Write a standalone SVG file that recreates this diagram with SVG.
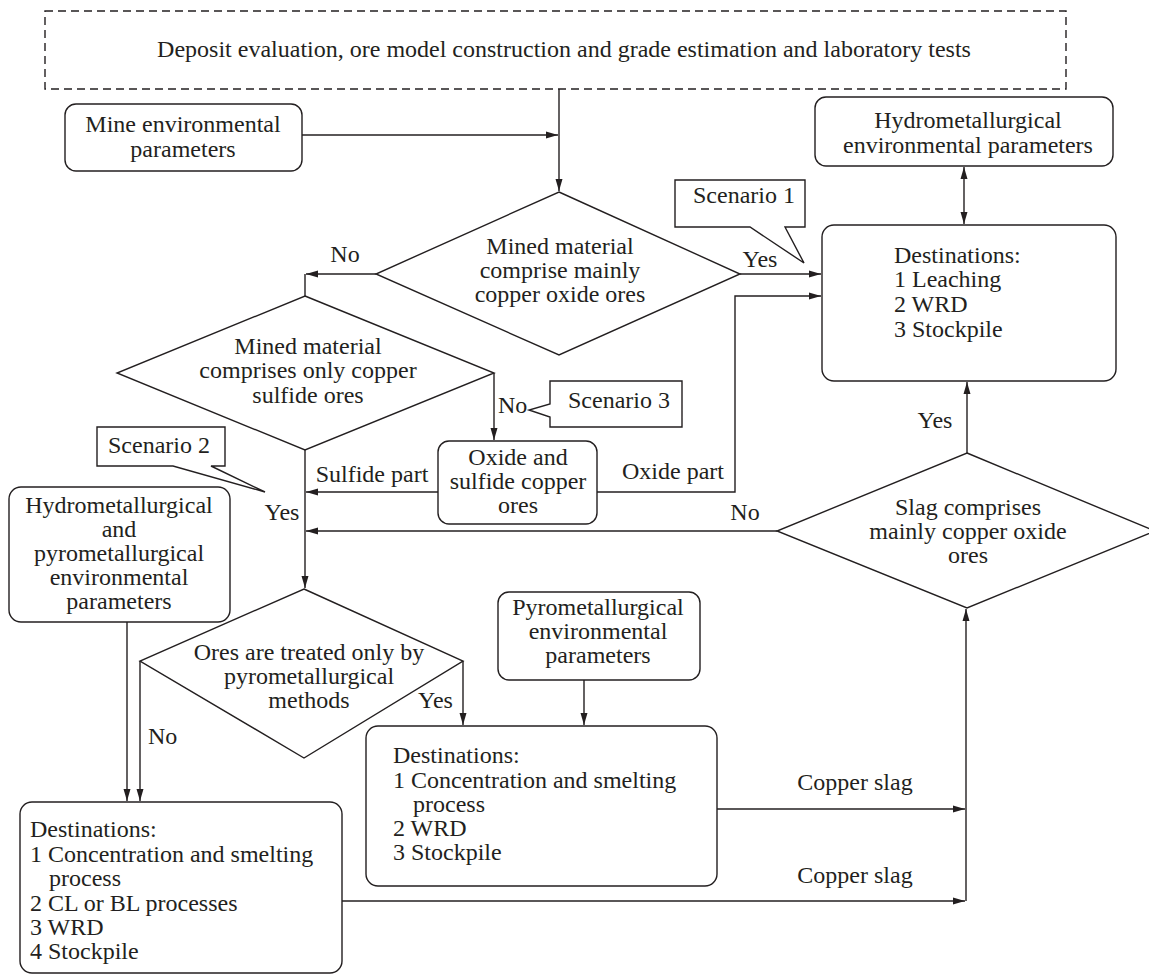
<svg xmlns="http://www.w3.org/2000/svg" width="1149" height="974" viewBox="0 0 1149 974">
<defs>
<style>
.b{fill:#fff;stroke:#231f20;stroke-width:1.4}
.c{fill:none;stroke:#231f20;stroke-width:1.4}
text{font-family:"Liberation Serif","Times New Roman",serif;font-size:24px;fill:#231f20}
.m{text-anchor:middle}
</style>
<marker id="a" viewBox="0 0 12 8" refX="12" refY="4" markerWidth="12" markerHeight="8" orient="auto-start-reverse" markerUnits="userSpaceOnUse"><path d="M0,0.5 L12,4 L0,7.5 Z" fill="#231f20"/></marker>
</defs>
<rect width="1149" height="974" fill="#fff"/>

<g id="connectors">
<path class="c" d="M559,89 V191" marker-end="url(#a)"/>
<path class="c" d="M302,135 H558" marker-end="url(#a)"/>
<path class="c" d="M376,274 H306" marker-end="url(#a)"/>
<path class="c" d="M305,274 V296"/>
<path class="c" d="M740,274 H821" marker-end="url(#a)"/>
<path class="c" d="M494,373 V440" marker-end="url(#a)"/>
<path class="c" d="M438,492 H306" marker-end="url(#a)"/>
<path class="c" d="M597,492 H735 V296 H821" marker-end="url(#a)"/>
<path class="c" d="M305,450 V588" marker-end="url(#a)"/>
<path class="c" d="M964,167 V224" marker-start="url(#a)" marker-end="url(#a)"/>
<path class="c" d="M967,453 V382" marker-end="url(#a)"/>
<path class="c" d="M777,531 H306" marker-end="url(#a)"/>
<path class="c" d="M127,622 V801" marker-end="url(#a)"/>
<path class="c" d="M140,661 V801" marker-end="url(#a)"/>
<path class="c" d="M463,661 V725" marker-end="url(#a)"/>
<path class="c" d="M584,680 V725" marker-end="url(#a)"/>
<path class="c" d="M717,809 H965" marker-end="url(#a)"/>
<path class="c" d="M342,901 H965" marker-end="url(#a)"/>
<path class="c" d="M966,901 V609" marker-end="url(#a)"/>
<text class="m" x="345" y="262">No</text>
<text class="m" x="760" y="267">Yes</text>
<text x="498" y="413">No</text>
<text class="m" x="372" y="482">Sulfide part</text>
<text class="m" x="673" y="479">Oxide part</text>
<text class="m" x="282" y="520">Yes</text>
<text class="m" x="745" y="520">No</text>
<text class="m" x="935" y="428">Yes</text>
<text x="148" y="744">No</text>
<text x="418" y="708">Yes</text>
<text class="m" x="855" y="790">Copper slag</text>
<text class="m" x="855" y="883">Copper slag</text>
</g>

<g id="n-deposit">
<rect x="45" y="11" width="1021" height="78" fill="#fff" stroke="#231f20" stroke-width="1.4" stroke-dasharray="8,5"/>
<text class="m" x="564" y="57">Deposit evaluation, ore model construction and grade estimation and laboratory tests</text>
</g>

<g id="n-mine-env">
<rect class="b" x="65" y="104" width="237" height="67" rx="11"/>
<text class="m" x="183" y="132">Mine environmental</text>
<text class="m" x="183" y="157">parameters</text>
</g>

<g id="n-hydro-env">
<rect class="b" x="815" y="97" width="298" height="69" rx="11"/>
<text class="m" x="968" y="128">Hydrometallurgical</text>
<text class="m" x="968" y="153">environmental parameters</text>
</g>

<g id="n-q1">
<polygon class="b" points="559,192 740,274 559,355 376,274"/>
<text class="m" x="560" y="254">Mined material</text>
<text class="m" x="560" y="278">comprise mainly</text>
<text class="m" x="560" y="302">copper oxide ores</text>
</g>

<g id="n-scenario1">
<path class="b" d="M675,180 H805 V227 H785 L804,263 L750,227 H675 Z"/>
<text class="m" x="744" y="203">Scenario 1</text>
</g>

<g id="n-dest-hydro">
<rect class="b" x="822" y="225" width="294" height="156" rx="12"/>
<text x="894" y="263">Destinations:</text>
<text x="894" y="287">1 Leaching</text>
<text x="894" y="312">2 WRD</text>
<text x="894" y="337">3 Stockpile</text>
</g>

<g id="n-q2">
<polygon class="b" points="305,296 494,373 305,450 117,373"/>
<text class="m" x="308" y="354">Mined material</text>
<text class="m" x="308" y="378">comprises only copper</text>
<text class="m" x="308" y="403">sulfide ores</text>
</g>

<g id="n-scenario3">
<path class="b" d="M550,381 H682 V427 H550 V417 L529,410 L550,404 Z"/>
<text class="m" x="619" y="408">Scenario 3</text>
</g>

<g id="n-scenario2">
<path class="b" d="M97,427 H225 V466 H211 L265,492 L173,466 H97 Z"/>
<text class="m" x="159" y="453">Scenario 2</text>
</g>

<g id="n-oxide-sulfide">
<rect class="b" x="438" y="441" width="159" height="83" rx="11"/>
<text class="m" x="518" y="465">Oxide and</text>
<text class="m" x="518" y="489">sulfide copper</text>
<text class="m" x="518" y="513">ores</text>
</g>

<g id="n-slag-q">
<polygon class="b" points="967,453 1155,531 967,608 777,531"/>
<text class="m" x="968" y="515">Slag comprises</text>
<text class="m" x="968" y="539">mainly copper oxide</text>
<text class="m" x="968" y="563">ores</text>
</g>

<g id="n-hydro-pyro-env">
<rect class="b" x="9" y="487" width="221" height="135" rx="12"/>
<text class="m" x="119" y="513">Hydrometallurgical</text>
<text class="m" x="119" y="537">and</text>
<text class="m" x="119" y="561">pyrometallurgical</text>
<text class="m" x="119" y="585">environmental</text>
<text class="m" x="119" y="609">parameters</text>
</g>

<g id="n-q3">
<polygon class="b" points="304,589 463,661 304,758 140,661"/>
<text class="m" x="309" y="660">Ores are treated only by</text>
<text class="m" x="309" y="684">pyrometallurgical</text>
<text class="m" x="309" y="708">methods</text>
</g>

<g id="n-pyro-env">
<rect class="b" x="498" y="592" width="202" height="88" rx="11"/>
<text class="m" x="598" y="615">Pyrometallurgical</text>
<text class="m" x="598" y="639">environmental</text>
<text class="m" x="598" y="663">parameters</text>
</g>

<g id="n-dest-pyro">
<rect class="b" x="366" y="726" width="351" height="160" rx="12"/>
<text x="393" y="763">Destinations:</text>
<text x="393" y="788">1 Concentration and smelting</text>
<text x="413" y="812">process</text>
<text x="393" y="836">2 WRD</text>
<text x="393" y="860">3 Stockpile</text>
</g>

<g id="n-dest-both">
<rect class="b" x="20" y="802" width="322" height="171" rx="12"/>
<text x="30" y="837">Destinations:</text>
<text x="30" y="862">1 Concentration and smelting</text>
<text x="49" y="886">process</text>
<text x="30" y="911">2 CL or BL processes</text>
<text x="30" y="935">3 WRD</text>
<text x="30" y="959">4 Stockpile</text>
</g>
</svg>
